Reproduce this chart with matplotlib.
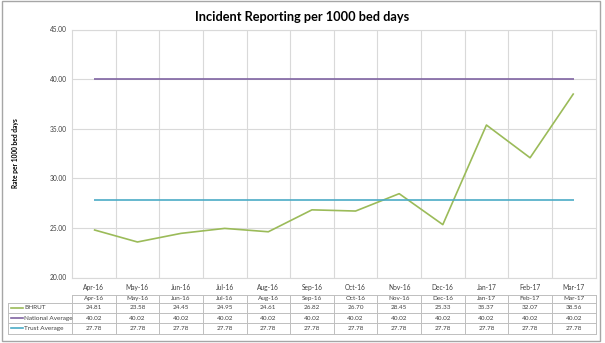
import matplotlib
matplotlib.use("Agg")
import matplotlib.pyplot as plt
from matplotlib.patches import Rectangle
from matplotlib.lines import Line2D
from matplotlib.transforms import blended_transform_factory

months = ["Apr-16", "May-16", "Jun-16", "Jul-16", "Aug-16", "Sep-16",
          "Oct-16", "Nov-16", "Dec-16", "Jan-17", "Feb-17", "Mar-17"]
bhrut = [24.81, 23.58, 24.45, 24.95, 24.61, 26.82, 26.70, 28.45, 25.33, 35.37, 32.07, 38.56]
national = [40.02] * 12
trust = [27.78] * 12
series_names = ["BHRUT", "National Average", "Trust Average"]
yticks = [20, 25, 30, 35, 40, 45]

colors = ["#9BBB59", "#8064A2", "#4BACC6"]
series = [bhrut, national, trust]

plt.rcParams['font.family'] = ['Lato', 'DejaVu Sans']
W, H = 605, 343
fig = plt.figure(figsize=(W / 100, H / 100), dpi=100)

def fy(py):
    return 1 - py / H

def fx(px):
    return px / W

L, R, T, B = 72, 595.5, 29.5, 277.5
ax = fig.add_axes([fx(L), fy(B), fx(R) - fx(L), fy(T) - fy(B)])
x = list(range(len(months)))
for s, c in zip(series, colors):
    ax.plot(x, s, color=c, lw=1.2, solid_capstyle='butt', zorder=3)
ax.set_xlim(-0.5, len(months) - 0.5)
ax.set_ylim(20, 45)
ax.set_yticks(yticks)
ax.set_yticklabels([f"{v:.2f}" for v in yticks], fontsize=4.8, color="#404040")
ax.set_xticks(x)
ax.set_xticklabels(months, fontsize=4.8, color="#404040")
ax.set_xticks([i + 0.5 for i in range(len(months) - 1)], minor=True)
ax.tick_params(axis='both', which='both', length=0)
ax.tick_params(axis='x', pad=5)
ax.tick_params(axis='y', pad=3.5)
ax.grid(axis='y', which='major', color="#D9D9D9", lw=0.8)
ax.grid(axis='x', which='minor', color="#D9D9D9", lw=0.8)
ax.set_axisbelow(True)
for sp in ax.spines.values():
    sp.set_color("#D9D9D9")
    sp.set_linewidth(0.8)
ax.set_ylabel("Rate per 1000 bed days", fontsize=4.8, fontweight='bold')
ax.yaxis.set_label_coords(fx(19), 0.5, transform=blended_transform_factory(fig.transFigure, ax.transAxes))

fig.text(0.5, fy(17), "Incident Reporting per 1000 bed days", ha='center', va='center',
         fontsize=9.2, fontweight='bold', color="#000000")

# data table
tr = blended_transform_factory(ax.transData, fig.transFigure)
trf = fig.transFigure
rows_y = [294.5, 302.8, 313, 323.2, 333.5]
gc = "#BFBFBF"
fs = 4.6
fig.add_artist(Line2D([fx(L), fx(R)], [fy(rows_y[0])] * 2, color=gc, lw=0.7, transform=trf))
for yy in rows_y[1:]:
    fig.add_artist(Line2D([fx(8), fx(R)], [fy(yy)] * 2, color=gc, lw=0.7, transform=trf))
fig.add_artist(Line2D([fx(8), fx(8)], [fy(rows_y[1]), fy(rows_y[-1])], color=gc, lw=0.7, transform=trf))
for i in range(len(months) + 1):
    xb = i - 0.5
    fig.add_artist(Line2D([xb, xb], [fy(rows_y[0]), fy(rows_y[-1])], color=gc, lw=0.7, transform=tr))
for i, m in enumerate(months):
    fig.text(i, fy((rows_y[0] + rows_y[1]) / 2), m, transform=tr, ha='center', va='center',
             fontsize=fs, color="#404040")
for r, (name, s, c) in enumerate(zip(series_names, series, colors)):
    yc = fy((rows_y[r + 1] + rows_y[r + 2]) / 2)
    for i, v in enumerate(s):
        fig.text(i, yc, f"{v:.2f}", transform=tr, ha='center', va='center', fontsize=fs, color="#404040")
    fig.add_artist(Line2D([fx(10.5), fx(23)], [yc, yc], color=c, lw=1.2, transform=trf))
    fig.text(fx(24), yc, name, ha='left', va='center', fontsize=fs, color="#404040")

fig.add_artist(Rectangle((fx(1.5), fy(340.5)), fx(600) - fx(1.5), fy(1) - fy(340.5), transform=trf,
                         fill=False, edgecolor="#A6A6A6", lw=1.0))

fig.savefig("out.png", dpi=100)
